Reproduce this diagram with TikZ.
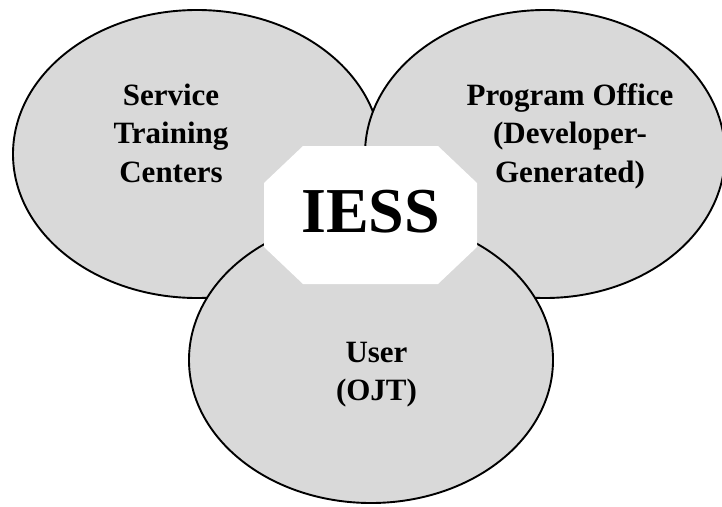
\documentclass[tikz,border=0pt]{standalone}
\usepackage{fontspec}
\setmainfont{Liberation Serif}
\usetikzlibrary{shapes.geometric}
\definecolor{bubble}{HTML}{D9D9D9}
\begin{document}
\begin{tikzpicture}[x=1pt,y=-1pt,
  bubble/.style={ellipse,draw=black,fill=bubble,line width=1.9pt,inner sep=0pt,outer sep=0pt},
  lbl/.style={anchor=base,inner sep=0pt,font=\fontsize{31}{38.5}\selectfont\bfseries},
  big/.style={anchor=base,inner sep=0pt,font=\fontsize{64}{70}\selectfont\bfseries}]
\useasboundingbox (0,0) rectangle (722,506);
\node[bubble,minimum width=368pt,minimum height=288pt] (stc) at (197,154) {};
\node[bubble,minimum width=360pt,minimum height=288pt] (po) at (545,154) {};
\node[bubble,minimum width=364pt,minimum height=286pt] (usr) at (371,360) {};
\fill[white] (303,146) -- (438,146) -- (477,183) -- (477,247) -- (438,284) -- (303,284) -- (264,247) -- (264,183) -- cycle;
\node[big] (iess) at (370.5,232) {IESS};
\node[lbl] (stc1) at (171,105) {Service};
\node[lbl] (stc2) at (171,143.5) {Training};
\node[lbl] (stc3) at (171,182) {Centers};
\node[lbl] (po1) at (570,105) {Program Office};
\node[lbl] (po2) at (570,143.5) {(Developer-};
\node[lbl] (po3) at (570,182) {Generated)};
\node[lbl] (usr1) at (376.5,362) {User};
\node[lbl] (usr2) at (376.5,400) {(OJT)};
\end{tikzpicture}
\end{document}
